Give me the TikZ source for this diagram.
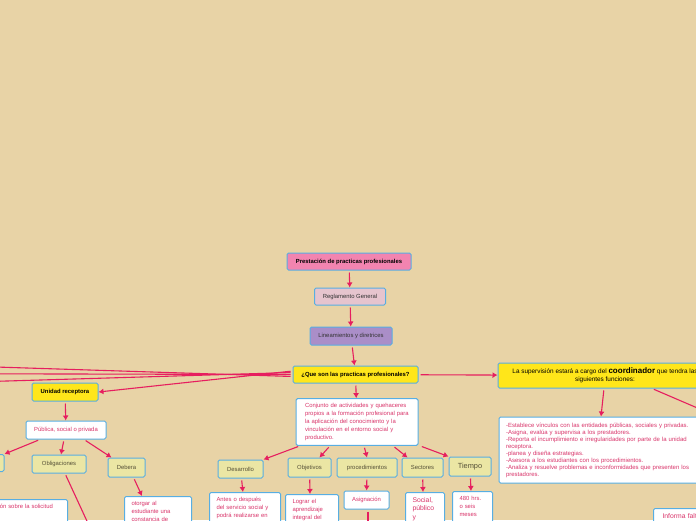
\documentclass[tikz,border=0pt]{standalone}
\usepackage{fontspec}
\setmainfont{Liberation Sans}
\usepackage{xcolor}
\usepackage{tikz}
\usetikzlibrary{arrows.meta,positioning,calc}
\definecolor{mmbg}{RGB}{232,211,166}
\definecolor{mmline}{RGB}{230,30,95}
\definecolor{mmblue}{RGB}{88,174,226}
\definecolor{mmrose}{RGB}{242,132,176}
\definecolor{mmblush}{RGB}{230,196,206}
\definecolor{mmlilac}{RGB}{170,142,200}
\definecolor{mmyellow}{RGB}{255,230,26}
\definecolor{mmkhaki}{RGB}{235,230,164}
\definecolor{mmtext}{RGB}{217,52,106}
\definecolor{mmolive}{RGB}{85,80,55}
\tikzset{
  topic/.style={rectangle, rounded corners=1.5pt, draw=mmblue, line width=1pt, align=center, inner sep=0pt, text=black!80, font=\fontsize{5.9}{7}\selectfont},
  maintopic/.style={topic, fill=mmyellow, text=black, font=\fontsize{5.9}{7}\selectfont\bfseries},
  subtopic/.style={topic, fill=mmkhaki, text=mmolive, font=\fontsize{5.9}{7}\selectfont},
  note/.style={rectangle, rounded corners=1.5pt, draw=mmblue, line width=1pt, fill=white, align=left, text=mmtext, inner xsep=7pt, inner ysep=5pt, anchor=north, font=\fontsize{5.9}{8}\selectfont},
  link/.style={-{Latex[length=5pt,width=6pt]}, line width=1.1pt, draw=mmline, shorten <=2pt},
  line/.style={line width=1.1pt, draw=mmline, shorten <=2pt}
}

\begin{document}
\begin{tikzpicture}[x=1pt,y=-1pt]
\useasboundingbox (0,0) rectangle (696,520);
\clip (0,0) rectangle (696,520);
\fill[mmbg] (0,0) rectangle (696,520);

% centre column
\node[topic, fill=mmrose, text=black, font=\fontsize{5.9}{7}\selectfont\bfseries, minimum width=124, minimum height=17] (root) at (349,261.5) {Prestación de practicas profesionales};
\node[topic, fill=mmblush, minimum width=71, minimum height=17] (regla) at (350,296.5) {Reglamento General};
\node[topic, fill=mmlilac, minimum width=82, minimum height=18] (linea) at (351,336) {Lineamientos y diretrices};
\node[maintopic, minimum width=125, minimum height=17] (que) at (355.5,374.5) {¿Que son las practicas profesionales?};
\node[note, anchor=center, text width=104, inner xsep=9pt, minimum height=46, font=\fontsize{5.9}{7.8}\selectfont] (conj) at (357,422) {Conjunto de actividades y quehaceres\\propios a la formación profesional para\\la aplicación del conocimiento y la\\vinculación en el entorno social y\\productivo.};

% coordinador
\node[topic, fill=mmyellow, text=black, minimum width=214, minimum height=25, font=\fontsize{6.4}{8}\selectfont] (superv) at (605,375.5) {La supervisión estará a cargo del {\fontsize{8}{8}\selectfont\bfseries coordinador} que tendra las\\siguientes funciones:};
\node[note, anchor=center, text width=190, minimum height=66, font=\fontsize{6}{7}\selectfont] (funcs) at (601,450) {-Establece vínculos con las entidades públicas, sociales y privadas.\\-Asigna, evalúa y supervisa a los prestadores.\\-Reporta el incumplimiento e irregularidades por parte de la unidad\\receptora.\\-planea y diseña estrategias.\\-Asesora a los estudiantes con los procedimientos.\\-Analiza y resuelve problemas e inconformidades que presenten los\\prestadores.};
\node[note, anchor=north west, text width=60, inner xsep=9pt, font=\fontsize{6.8}{8}\selectfont] (informa) at (653,508) {Informa faltas\\ \mbox{}};
\coordinate (offright) at (730,422);

% unidad receptora
\coordinate (offa) at (-20,366.5);
\coordinate (offb) at (-20,373.8);
\coordinate (offc) at (-20,381.8);
\node[maintopic, minimum width=66, minimum height=18] (unidad) at (65,392) {Unidad receptora};
\node[topic, fill=white, text=mmtext, minimum width=80, minimum height=18] (publica) at (66,430) {Pública, social o privada};
\node[subtopic, minimum width=68, minimum height=17] (leftk) at (-30,463) {};
\node[subtopic, minimum width=54, minimum height=18] (oblig) at (59,464) {Obligaciones};
\node[subtopic, minimum width=37, minimum height=19] (debera) at (126.5,467.5) {Debera};
\node[note, anchor=north west, text width=85] (solic) at (-32,499) {Información sobre la solicitud\\ \mbox{}\\ \mbox{}};
\node[note, anchor=north west, text width=53, inner xsep=7pt] (otorgar) at (124,496) {otorgar al\\estudiante una\\constancia de\\ \mbox{}};
\coordinate (offoblig) at (92,532);

% ramas de la definicion
\node[subtopic, minimum width=45, minimum height=18] (desarrollo) at (240.5,469) {Desarrollo};
\node[subtopic, minimum width=43, minimum height=19] (objetivos) at (309.5,467.5) {Objetivos};
\node[subtopic, minimum width=60, minimum height=19] (proced) at (367,467.5) {procedimientos};
\node[subtopic, minimum width=41, minimum height=19] (sectores) at (422.5,467.5) {Sectores};
\node[subtopic, minimum width=42, minimum height=19, font=\fontsize{7.4}{8}\selectfont] (tiempo) at (470,466.5) {Tiempo};
\node[note, anchor=north west, text width=57] (desbox) at (209,492) {Antes o después\\del servicio social y\\podrá realizarse en\\ \mbox{}};
\node[note, anchor=north west, text width=39] (objbox) at (285,494) {Lograr el\\aprendizaje\\integral del\\ \mbox{}};
\node[topic, fill=white, text=mmtext, minimum width=45, minimum height=18] (asign) at (366.5,500) {Asignación};
\node[note, anchor=north west, text width=25, font=\fontsize{6.8}{8.5}\selectfont] (secbox) at (405,492) {Social,\\público\\y\\ \mbox{}};
\node[note, anchor=north west, text width=26] (tiebox) at (452,491) {480 hrs.\\o seis\\meses\\ \mbox{}};
\coordinate (offasign) at (368,532);

% connectors
\draw[link] (root) -- (regla);
\draw[link] (regla) -- (linea);
\draw[link] (linea) -- (que);
\draw[link] (que) -- (conj);
\draw[link] (que) -- (superv);
\draw[link] ([yshift=-2pt]que.west) -- (offa);
\draw[link] (que.west) -- (offb);
\draw[link] ([yshift=2pt]que.west) -- (offc);
\draw[link] ([yshift=3.5pt]que.west) -- (unidad.east);
\draw[link] ([xshift=-1pt]superv.south) -- (funcs.north);
\draw[line] ([xshift=47pt]superv.south) -- (offright);
\draw[link] (unidad) -- (publica);
\draw[link] ([xshift=-26pt]publica.south) -- (leftk.north east);
\draw[link] ([xshift=-2pt]publica.south) -- ([xshift=2pt]oblig.north);
\draw[link] ([xshift=18pt]publica.south) -- ([xshift=4pt]debera.north west);
\draw[line] ([xshift=6pt]oblig.south) -- (offoblig);
\draw[link] ([xshift=7pt]debera.south) -- ([xshift=18pt]otorgar.north west);
\draw[link] ([xshift=-57pt]conj.south) -- (desarrollo.north east);
\draw[link] ([xshift=-27pt]conj.south) -- ([xshift=10pt]objetivos.north);
\draw[link] ([xshift=7pt]conj.south) -- (proced.north);
\draw[link] ([xshift=36pt]conj.south) -- ([xshift=6pt]sectores.north west);
\draw[link] ([xshift=63pt]conj.south) -- (tiempo.north west);
\draw[link] (desarrollo) -- (desbox);
\draw[link] (objetivos) -- ([xshift=25pt]objbox.north west);
\draw[link] (proced) -- (asign);
\draw[link] (sectores) -- ([xshift=18pt]secbox.north west);
\draw[link] (tiempo) -- ([xshift=19pt]tiebox.north west);
\draw[line] ([xshift=1.5pt]asign.south) -- (offasign);
\end{tikzpicture}
\end{document}
